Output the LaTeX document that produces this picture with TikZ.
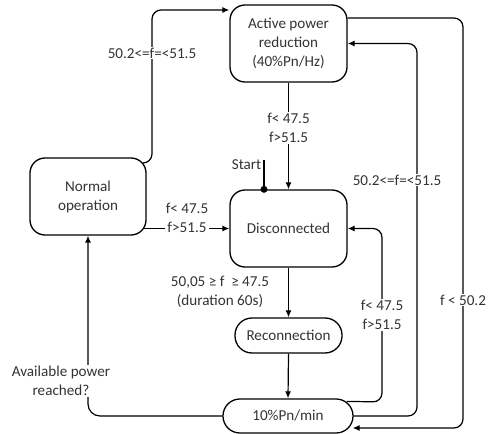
\documentclass[tikz,border=0pt]{standalone}
\usepackage{fontspec}
\setmainfont{Carlito}
\usetikzlibrary{arrows.meta,calc}
\begin{document}
\begin{tikzpicture}[x=1bp,y=-1bp,
  every node/.style={font=\fontsize{15.2}{19}\selectfont, text=black!80},
  box/.style={draw, line width=1.3bp, rounded corners=15bp, align=center, inner sep=0pt},
  pill/.style={draw, line width=1.3bp, align=center, inner sep=0pt},
  conn/.style={line width=1.2bp, -{Latex[length=7bp,width=6bp]}, rounded corners=9bp},
  lbl/.style={fill=white, align=center, inner sep=1bp}]
\useasboundingbox (0,0) rectangle (488,434);

% states
\node[box, minimum width=117bp, minimum height=77bp] (apr) at (288.5,43.5) {Active power\\reduction\\(40\%Pn/Hz)};
\node[box, minimum width=116bp, minimum height=77bp] (normal) at (88,196.5) {Normal\\operation};
\node[box, minimum width=117bp, minimum height=77bp] (disc) at (288.5,228.5) {Disconnected};
\node[pill, rounded corners=17bp, minimum width=107bp, minimum height=35bp] (recon) at (288.5,335.5) {Reconnection};
\node[pill, rounded corners=16.9bp, minimum width=130bp, minimum height=34bp] (ten) at (288,416) {10\%Pn/min};

% Normal -> APR
\coordinate (n1) at ($(normal.east)+(-4,-33.5)$);
\draw[conn] (n1) -- (152,163) -- (152,10) -- (apr.west |- 0,10);
\node[lbl] (l1) at (152,53) {50.2<=f=<51.5};

% APR -> Disconnected
\draw[conn] (apr.south) -- (disc.north);
\node[lbl] (l2) at (288.5,128) {f< 47.5\\f>51.5};

% Start
\coordinate (st) at (264,160);
\node[circle, fill=black, inner sep=0pt, minimum size=7bp] (dot) at (disc.north -| st) {};
\draw[line width=1.2bp] (st) -- (dot.center);
\node[anchor=east, inner sep=1bp] (startlbl) at (262.5,165) {Start};

% Normal -> Disconnected
\coordinate (n2) at ($(normal.east |- disc.west)+(-3,0)$);
\draw[conn] (n2) -- (disc.west);
\node[lbl] (l3) at (187,218) {f< 47.5\\f>51.5};

% Disconnected -> Reconnection
\draw[conn] (disc.south) -- (recon.north);
\node[align=center, inner sep=1bp] (l4) at (220,292) {50,05 ≥ f \ ≥ 47.5\\(duration 60s)};

% Reconnection -> 10%
\draw[conn] (recon.south) -- (ten.north);

% 10% -> Disconnected
\coordinate (t1) at ($(ten.north east)+(-7,3)$);
\draw[conn] (t1) -- (382,402) -- (382,228.5) -- (disc.east);
\node[lbl] (l5) at (382,315) {f< 47.5\\f>51.5};

% 10% -> APR
\draw[conn] (ten.east) -- (417,416) -- (417,43.5) -- (apr.east);
\node[lbl] (l6) at (397,180) {50.2<=f=<51.5};

% APR -> 10%
\coordinate (a1) at ($(apr.east)+(0,-25.5)$);
\coordinate (t2) at ($(ten.east)+(-1,12)$);
\draw[conn] (a1) -- (463,18) -- (463,428) -- (t2);
\node[lbl] (l7) at (463,300) {f < 50.2};

% 10% -> Normal
\draw[conn, rounded corners=12bp] (ten.west) -- (88,416) -- (normal.south);
\node[lbl] (l8) at (61,381) {Available power\\reached?};
\end{tikzpicture}
\end{document}
